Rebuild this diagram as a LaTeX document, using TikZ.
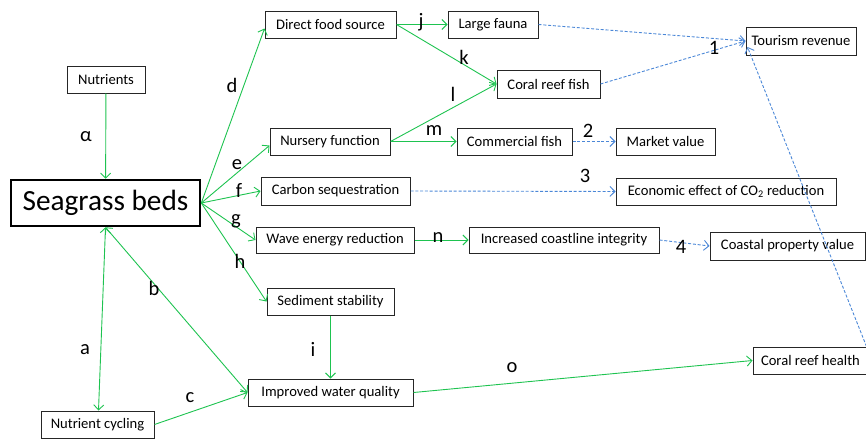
\documentclass[tikz,border=0pt]{standalone}
\usepackage{fontspec}
\setmainfont{Carlito}
\usetikzlibrary{arrows.meta}
\definecolor{grn}{RGB}{30,195,80}
\definecolor{blu}{RGB}{75,135,215}
\begin{document}
\begin{tikzpicture}[x=1pt,y=-1pt,
  box/.style={draw=black!85, line width=1pt, inner sep=0pt, font=\fontsize{14.6}{16}\selectfont, minimum height=27pt},
  big/.style={draw=black, line width=2.6pt, inner sep=0pt, font=\fontsize{29.3}{32}\selectfont},
  lab/.style={font=\fontsize{20.5}{22}\selectfont, inner sep=0pt},
  garr/.style={draw=grn, line width=0.9pt, -{Straight Barb[length=5pt,width=10pt]}},
  gbi/.style={draw=grn, line width=0.9pt, {Straight Barb[length=5pt,width=10pt]}-{Straight Barb[length=5pt,width=10pt]}},
  barr/.style={draw=blu, line width=0.9pt, dash pattern=on 3pt off 1.8pt, -{Straight Barb[length=5pt,width=10pt]}}]
\useasboundingbox (0,0) rectangle (866,439);
% nodes
\node[box, minimum width=78pt] (nut) at (106,79.5) {Nutrients};
\node[big, minimum width=189pt, minimum height=46pt] (sg) at (105.5,203) {Seagrass beds};
\node[box, minimum width=113pt] (nc) at (97.5,424.5) {Nutrient cycling};
\node[box, minimum width=131pt] (dfs) at (330.5,24.5) {Direct food source};
\node[box, minimum width=90pt] (lf) at (493,24.5) {Large fauna};
\node[box, minimum width=103pt, minimum height=28pt] (crf) at (548.5,84) {Coral reef fish};
\node[box, minimum width=110pt, minimum height=28pt] (tr) at (801,41) {Tourism revenue};
\node[box, minimum width=120pt] (nf) at (330,141.5) {Nursery function};
\node[box, minimum width=115pt] (cf) at (514.5,141.5) {Commercial fish};
\node[box, minimum width=99pt] (mv) at (665.5,141.5) {Market value};
\node[box, minimum width=149pt, minimum height=28pt] (cs) at (335.5,191) {Carbon sequestration};
\node[box, minimum width=220pt] (ee) at (726,191.5) {Economic effect of CO\textsubscript{2} reduction};
\node[box, minimum width=158pt, minimum height=26pt] (we) at (335,240) {Wave energy reduction};
\node[box, minimum width=190pt, minimum height=26pt] (ci) at (564,240) {Increased coastline integrity};
\node[box, minimum width=155pt, minimum height=28pt] (cp) at (787.5,246) {Coastal property value};
\node[box, minimum width=127pt] (ss) at (330.5,301.5) {Sediment stability};
\node[box, minimum width=165pt] (iwq) at (330.5,392.5) {Improved water quality};
\node[box, minimum width=118pt] (crh) at (812,360.5) {\makebox[102pt][l]{Coral reef health}};
% green connectors
\draw[garr] (nut) -- (sg);
\draw[garr] (sg.east) -- ([yshift=-4pt]dfs.west);
\draw[garr] (sg.east) -- ([yshift=-4pt]nf.west);
\draw[garr] (sg.east) -- (cs.west);
\draw[garr] (sg.east) -- (we.west);
\draw[garr] (sg.east) -- (ss.west);
\draw[gbi] (sg.south) -- ([xshift=1pt]nc.north);
\draw[gbi] (sg.south) -- (iwq.west);
\draw[garr] (nc.east) -- (iwq.west);
\draw[garr] (ss) -- (iwq);
\draw[garr] (iwq.east) -- (crh.west);
\draw[garr] (dfs.east) -- (lf.west);
\draw[garr] (dfs.east) -- (crf.west);
\draw[garr] (nf.east) -- (crf.west);
\draw[garr] (nf.east) -- (cf.west);
\draw[garr] (we.east) -- (ci.west);
% blue dashed connectors
\draw[barr] (lf.east) -- (tr.west);
\draw[barr] (crf.east) -- (tr.west);
\draw[barr] ([xshift=-5pt]crh.north east) -- ([xshift=2pt,yshift=-6pt]tr.west);
\draw[barr] (cf.east) -- (mv.west);
\draw[barr] (cs.east) -- (ee.west);
\draw[barr] (ci.east) -- (cp.west);
% labels
\node[lab] (la) at (86,137) {α};
\node[lab] (ld) at (232,85) {d};
\node[lab] (lj) at (421,22) {j};
\node[lab] (lk) at (464,57) {k};
\node[lab] (ll) at (453,94) {l};
\node[lab] (lm) at (434,131) {m};
\node[lab] (l1) at (714,48) {1};
\node[lab] (l2) at (588,131) {2};
\node[lab] (le) at (237,165) {e};
\node[lab] (lf2) at (239,190) {f};
\node[lab] (l3) at (585,176) {3};
\node[lab] (lg) at (236,221) {g};
\node[lab] (ln) at (438,238) {n};
\node[lab] (l4) at (681,247) {4};
\node[lab] (lh) at (240,261) {h};
\node[lab] (lb) at (154,288) {b};
\node[lab] (laa) at (85,350) {a};
\node[lab] (li) at (313,349) {i};
\node[lab] (lc) at (190,398) {c};
\node[lab] (lo) at (512,368) {o};
\end{tikzpicture}
\end{document}
